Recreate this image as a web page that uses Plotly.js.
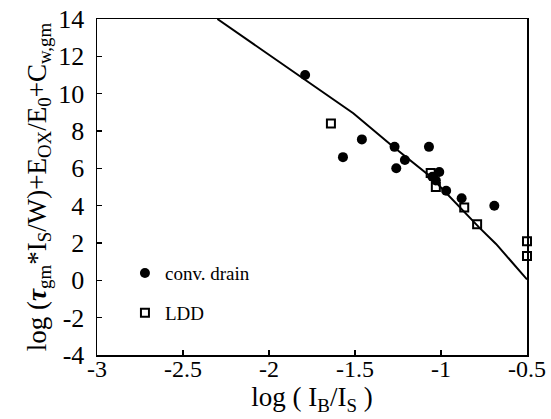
<!DOCTYPE html>
<html>
<head>
<meta charset="utf-8">
<script src="https://cdn.plot.ly/plotly-3.0.1.min.js"></script>
<style>html,body{margin:0;padding:0;background:#fff;}#chart{width:551px;height:419px;}</style>
</head>
<body>
<div id="chart"></div>
<script>
// conventional drain devices (filled circles)
const convX = [-1.79, -1.57, -1.46, -1.27, -1.26, -1.21, -1.07, -1.01, -1.05, -1.03, -0.97, -0.88, -0.69];
const convY = [11.0, 6.6, 7.55, 7.15, 6.0, 6.45, 7.15, 5.8, 5.55, 5.35, 4.8, 4.4, 4.0];
// LDD devices (open squares)
const lddX = [-1.64, -1.06, -1.03, -0.865, -0.79, -0.5, -0.5];
const lddY = [8.4, 5.75, 5.0, 3.9, 3.0, 2.1, 1.3];
// model curve
const fitX = [-2.30, -2.05, -1.51, -1.29, -1.06, -0.78, -0.68, -0.50];
const fitY = [14.0, 12.4, 8.95, 7.25, 5.55, 2.85, 1.95, 0.05];
const xTicks = [-3, -2.5, -2, -1.5, -1, -0.5];
const yTicks = [-4, -2, 0, 2, 4, 6, 8, 10, 12, 14];

const FONT = 'Liberation Serif, Times New Roman, serif';

const traces = [
  {x: fitX, y: fitY, mode: 'lines', line: {color: '#000', width: 2}, showlegend: false, hoverinfo: 'skip'},
  {x: convX, y: convY, mode: 'markers', name: 'conv. drain', legendgroup: 'a',
   marker: {symbol: 'circle', size: 10, color: '#000'}, cliponaxis: false},
  {x: lddX, y: lddY, mode: 'markers', name: 'LDD', legendgroup: 'b',
   marker: {symbol: 'square-open', size: 8, color: '#000', line: {width: 2, color: '#000'}}, cliponaxis: false}
];

const layout = {
  width: 551, height: 419,
  margin: {l: 97, r: 24, t: 19, b: 64},
  paper_bgcolor: '#fff', plot_bgcolor: '#fff',
  font: {family: FONT, color: '#000'},
  showlegend: true,
  legend: {x: 0.065, y: 0.30, xanchor: 'left', yanchor: 'top', bgcolor: 'rgba(0,0,0,0)',
           font: {family: FONT, size: 19, color: '#000'}, tracegroupgap: 12},
  xaxis: {
    range: [-3, -0.5], tickvals: xTicks, ticktext: xTicks.map(String),
    ticks: 'inside', ticklen: 5, tickwidth: 1.5, tickcolor: '#000',
    showline: true, linecolor: '#000', linewidth: 1.5, mirror: true,
    showgrid: false, zeroline: false,
    ticklabelstandoff: -8,
    tickfont: {family: FONT, size: 24, color: '#000'},
    title: {text: 'log ( I<sub>B</sub>/I<sub>S</sub> )', font: {family: FONT, size: 27, color: '#000'}, standoff: 0}
  },
  yaxis: {
    range: [-4, 14], tickvals: yTicks, ticktext: yTicks.map(String),
    ticks: 'inside', ticklen: 5, tickwidth: 1.5, tickcolor: '#000',
    showline: true, linecolor: '#000', linewidth: 1.5, mirror: true,
    showgrid: false, zeroline: false,
    ticklabelstandoff: 6,
    tickfont: {family: FONT, size: 26, color: '#000'},
    title: {text: 'log (<b><i>τ</i></b><sub>gm</sub>*I<sub>S</sub>/W)+E<sub>OX</sub>/E<sub>0</sub>+C<sub>w,gm</sub>',
            font: {family: FONT, size: 27, color: '#000'}, standoff: 4}
  }
};

Plotly.newPlot('chart', traces, layout, {displayModeBar: false, staticPlot: true});
</script>
</body>
</html>
